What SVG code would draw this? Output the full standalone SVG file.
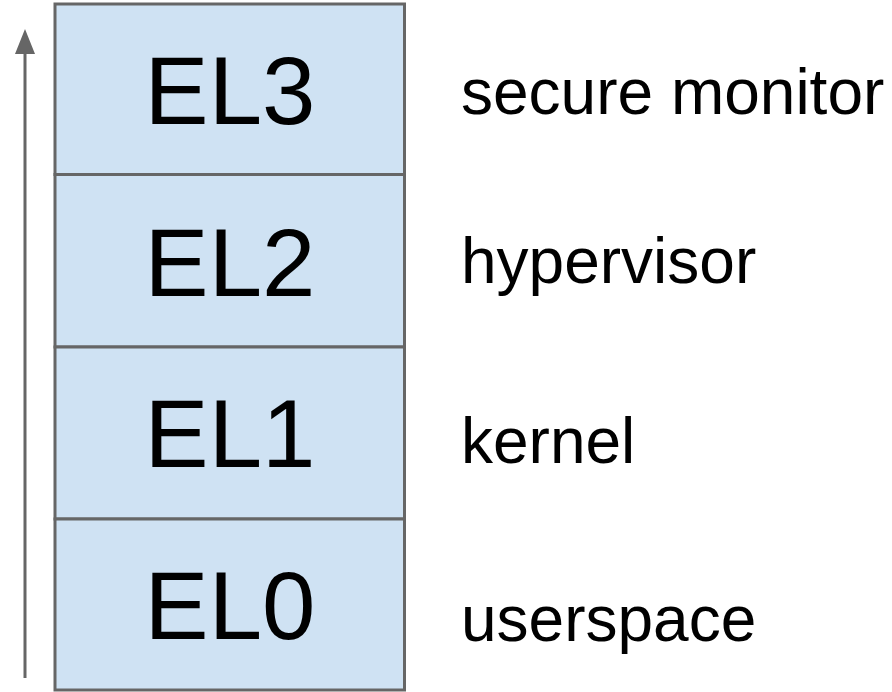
<svg xmlns="http://www.w3.org/2000/svg" width="892" height="692" viewBox="0 0 892 692">
  <style>
    .layer rect { fill: #cfe2f3; stroke: #666666; stroke-width: 3; }
    .el { font-family: "Liberation Sans", Arial, sans-serif; font-size: 96px; fill: #000000; text-anchor: middle; }
    .role { font-family: "Liberation Sans", Arial, sans-serif; font-size: 64px; fill: #000000; }
    .conn { stroke: #666666; stroke-width: 3; fill: none; }
  </style>
  <defs>
    <!-- arrowhead drawn along +x so orient="auto" follows the line direction -->
    <marker id="arrowhead" markerUnits="userSpaceOnUse" markerWidth="25" markerHeight="20" refX="14" refY="10" orient="auto" viewBox="0 0 25 20">
      <path d="M0,0 L25,10 L0,20 Z" fill="#666666"/>
    </marker>
  </defs>
  <rect width="892" height="692" fill="#ffffff"/>

  <!-- privilege-direction arrow -->
  <g id="connectors">
    <line class="conn" x1="25" y1="678" x2="25" y2="40" marker-end="url(#arrowhead)"/>
  </g>

  <!-- exception levels, stacked from EL3 (top) to EL0 (bottom) -->
  <g id="el3" class="layer">
    <rect x="55" y="4" width="349.5" height="170.5"/>
    <text class="el" x="230" y="124">EL3</text>
  </g>
  <g id="el2" class="layer">
    <rect x="55" y="174.5" width="349.5" height="172.5"/>
    <text class="el" x="230" y="296">EL2</text>
  </g>
  <g id="el1" class="layer">
    <rect x="55" y="347" width="349.5" height="172"/>
    <text class="el" x="230" y="467">EL1</text>
  </g>
  <g id="el0" class="layer">
    <rect x="55" y="519" width="349.5" height="171"/>
    <text class="el" x="230" y="639">EL0</text>
  </g>

  <!-- role labels -->
  <g id="labels">
    <text class="role" x="461" y="114">secure monitor</text>
    <text class="role" x="461" y="283">hypervisor</text>
    <text class="role" x="461" y="463">kernel</text>
    <text class="role" x="461" y="641">userspace</text>
  </g>
</svg>
